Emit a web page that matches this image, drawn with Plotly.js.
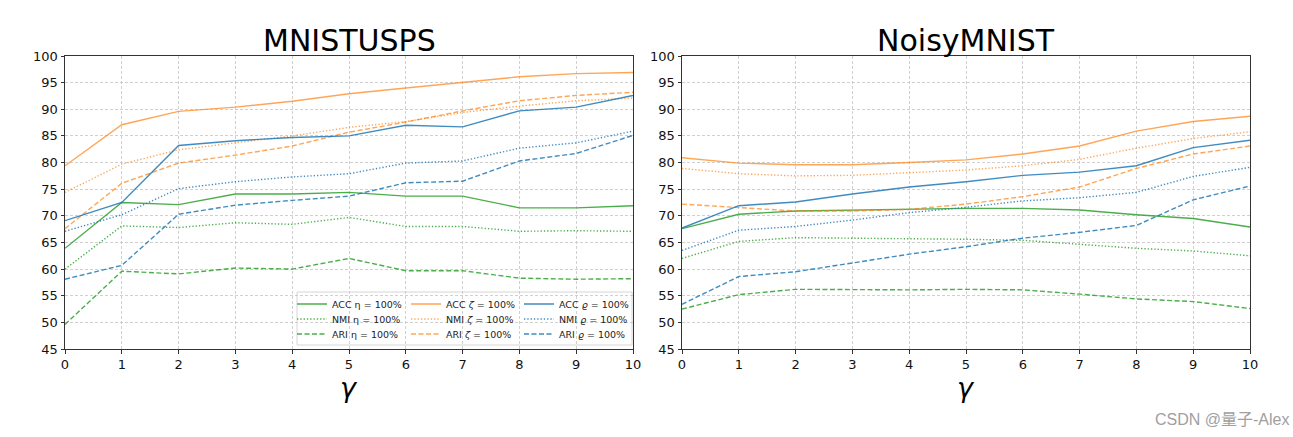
<!DOCTYPE html>
<html>
<head>
<meta charset="utf-8">
<script src="https://cdn.plot.ly/plotly-3.0.1.min.js"></script>
<style>html,body{margin:0;padding:0;background:#fff;}#chart{width:1293px;height:437px;}</style>
</head>
<body>
<div id="chart"></div>
<script>
// gamma values
const gamma = [0,1,2,3,4,5,6,7,8,9,10];

// MNISTUSPS
const mu_acc_eta  = [63.9,72.5,72.1,74.1,74.1,74.4,73.7,73.7,71.5,71.5,71.9];
const mu_nmi_eta  = [60.0,68.1,67.8,68.7,68.4,69.7,68.0,68.0,67.1,67.2,67.1];
const mu_ari_eta  = [49.6,59.6,59.1,60.2,60.0,62.0,59.7,59.7,58.3,58.1,58.2];
const mu_acc_zeta = [79.4,87.1,89.6,90.4,91.5,92.9,94.0,95.1,96.1,96.7,96.9];
const mu_nmi_zeta = [74.4,79.7,82.4,83.7,85.0,86.6,87.7,89.4,90.6,91.6,92.1];
const mu_ari_zeta = [67.6,76.1,79.9,81.4,83.1,85.7,87.6,89.7,91.6,92.6,93.2];
const mu_acc_rho  = [69.1,72.5,83.2,84.1,84.7,85.0,87.0,86.7,89.7,90.4,92.6];
const mu_nmi_rho  = [67.1,70.2,75.1,76.4,77.3,77.9,79.9,80.3,82.7,83.7,85.9];
const mu_ari_rho  = [58.1,60.7,70.3,72.0,72.9,73.7,76.2,76.5,80.3,81.7,85.1];

// NoisyMNIST
const nm_acc_eta  = [67.6,70.3,70.9,71.1,71.2,71.4,71.4,71.1,70.2,69.5,67.9];
const nm_nmi_eta  = [62.0,65.2,65.9,65.8,65.8,65.6,65.4,64.6,63.9,63.4,62.5];
const nm_ari_eta  = [52.5,55.2,56.2,56.1,56.1,56.2,56.1,55.3,54.4,53.9,52.6];
const nm_acc_zeta = [80.9,79.9,79.6,79.6,80.0,80.5,81.6,83.1,85.9,87.7,88.7];
const nm_nmi_zeta = [78.9,77.9,77.5,77.6,78.1,78.6,79.4,80.6,82.7,84.5,85.8];
const nm_ari_zeta = [72.2,71.6,70.9,70.9,71.2,72.2,73.6,75.4,78.9,81.6,83.1];
const nm_acc_rho  = [67.7,71.9,72.6,74.1,75.4,76.4,77.6,78.2,79.4,82.8,84.2];
const nm_nmi_rho  = [63.5,67.3,68.0,69.2,70.6,71.6,72.8,73.4,74.4,77.4,79.1];
const nm_ari_rho  = [53.4,58.6,59.5,61.1,62.8,64.2,65.8,66.9,68.2,73.0,75.6];

const panelTitles = ["MNISTUSPS", "NoisyMNIST"];
const xTitle = "γ";
const yTicks = [45,50,55,60,65,70,75,80,85,90,95,100];
const xTicks = gamma;

const labels = {
  acc_eta: "ACC η = 100%", nmi_eta: "NMI η = 100%", ari_eta: "ARI η = 100%",
  acc_zeta: "ACC <i>ζ</i> = 100%", nmi_zeta: "NMI <i>ζ</i> = 100%", ari_zeta: "ARI <i>ζ</i> = 100%",
  acc_rho: "ACC <i>ϱ</i> = 100%", nmi_rho: "NMI <i>ϱ</i> = 100%", ari_rho: "ARI <i>ϱ</i> = 100%"
};

const colors = {eta: "rgba(44,160,44,0.85)", zeta: "rgba(255,127,14,0.7)", rho: "rgba(31,119,180,0.85)"};
const dashes = {acc: "solid", nmi: "1.3px,2px", ari: "5px,2.5px"};
const params = ["eta","zeta","rho"];
const metrics = ["acc","nmi","ari"];

const datasets = [
  {ax: ["x","y"], d: {acc_eta:mu_acc_eta,nmi_eta:mu_nmi_eta,ari_eta:mu_ari_eta,acc_zeta:mu_acc_zeta,nmi_zeta:mu_nmi_zeta,ari_zeta:mu_ari_zeta,acc_rho:mu_acc_rho,nmi_rho:mu_nmi_rho,ari_rho:mu_ari_rho}, show: true},
  {ax: ["x2","y2"], d: {acc_eta:nm_acc_eta,nmi_eta:nm_nmi_eta,ari_eta:nm_ari_eta,acc_zeta:nm_acc_zeta,nmi_zeta:nm_nmi_zeta,ari_zeta:nm_ari_zeta,acc_rho:nm_acc_rho,nmi_rho:nm_nmi_rho,ari_rho:nm_ari_rho}, show: false}
];

function legName(pi, mi){ const n = pi*3 + mi + 1; return n === 1 ? "legend" : "legend" + n; }

const traces = [];
for (const ds of datasets) {
  params.forEach((p, pi) => {
    metrics.forEach((m, mi) => {
      const key = m + "_" + p;
      traces.push({
        x: gamma, y: ds.d[key], type: "scatter", mode: "lines",
        xaxis: ds.ax[0], yaxis: ds.ax[1],
        name: labels[key], showlegend: ds.show, legend: legName(pi, mi),
        line: {color: colors[p], width: 1.4, dash: dashes[m]},
        hoverinfo: "skip"
      });
    });
  });
}

const W = 1293, H = 437;
const px = v => v / W, py = v => (H - v) / H;
const yDom = [py(349), py(56)];

function xa(dom){
  return {domain: dom, range: [0,10], tickvals: xTicks, showgrid: true, gridcolor: "#c4c4c4", griddash: "3px,2px", gridwidth: 0.8,
    showline: true, mirror: true, linecolor: "#333", linewidth: 1, ticks: "outside", ticklen: 3.5, tickcolor: "#333",
    tickfont: {family: "DejaVu Sans", size: 13, color: "#111"}, zeroline: false, fixedrange: true};
}
function ya(anchor){
  return {domain: yDom, anchor: anchor, range: [45,100], tickvals: yTicks, showgrid: true, gridcolor: "#c4c4c4", griddash: "3px,2px", gridwidth: 0.8,
    showline: true, mirror: true, linecolor: "#333", linewidth: 1, ticks: "outside", ticklen: 3.5, tickcolor: "#333",
    tickfont: {family: "DejaVu Sans", size: 13, color: "#111"}, zeroline: false, fixedrange: true};
}

const legFont = {family: "DejaVu Sans", size: 9.5, color: "#222"};
const colX = [292, 406, 519];
const rowY = [304, 319, 334];

const layout = {
  width: W, height: H,
  margin: {l: 0, r: 0, t: 0, b: 0},
  paper_bgcolor: "#fff", plot_bgcolor: "#fff",
  showlegend: true,
  xaxis: Object.assign(xa([px(65), px(633)]), {anchor: "y"}),
  yaxis: ya("x"),
  xaxis2: Object.assign(xa([px(682), px(1250)]), {anchor: "y2"}),
  yaxis2: ya("x2"),
  shapes: [
    {type: "rect", xref: "paper", yref: "paper", x0: px(297), x1: px(632), y0: py(345), y1: py(292),
     line: {color: "#d6d6d6", width: 1}, fillcolor: "rgba(255,255,255,0.8)", layer: "below"}
  ],
  annotations: [
    {text: panelTitles[0], xref: "paper", yref: "paper", x: px(349), y: py(40), xanchor: "center", yanchor: "middle", showarrow: false,
     font: {family: "DejaVu Sans", size: 30, color: "#000"}},
    {text: panelTitles[1], xref: "paper", yref: "paper", x: px(966), y: py(40), xanchor: "center", yanchor: "middle", showarrow: false,
     font: {family: "DejaVu Sans", size: 30, color: "#000"}},
    {text: "<i>" + xTitle + "</i>", xref: "paper", yref: "paper", x: px(349), y: py(387), xanchor: "center", yanchor: "middle", showarrow: false,
     font: {family: "DejaVu Sans", size: 27, color: "#000"}},
    {text: "<i>" + xTitle + "</i>", xref: "paper", yref: "paper", x: px(966), y: py(387), xanchor: "center", yanchor: "middle", showarrow: false,
     font: {family: "DejaVu Sans", size: 27, color: "#000"}},
    {text: "CSDN @量子-Alex", xref: "paper", yref: "paper", x: px(1291), y: py(419), xanchor: "right", yanchor: "middle", showarrow: false,
     font: {family: "Liberation Sans, Noto Sans CJK SC", size: 16, color: "#a0a0a0"}}
  ]
};

params.forEach((p, pi) => {
  metrics.forEach((m, mi) => {
    layout[legName(pi, mi)] = {x: px(colX[pi]), y: py(rowY[mi]), xanchor: "left", yanchor: "middle",
      bgcolor: "rgba(0,0,0,0)", borderwidth: 0, font: legFont, itemwidth: 30};
  });
});

Plotly.newPlot("chart", traces, layout, {displayModeBar: false, staticPlot: true});
</script>
</body>
</html>
